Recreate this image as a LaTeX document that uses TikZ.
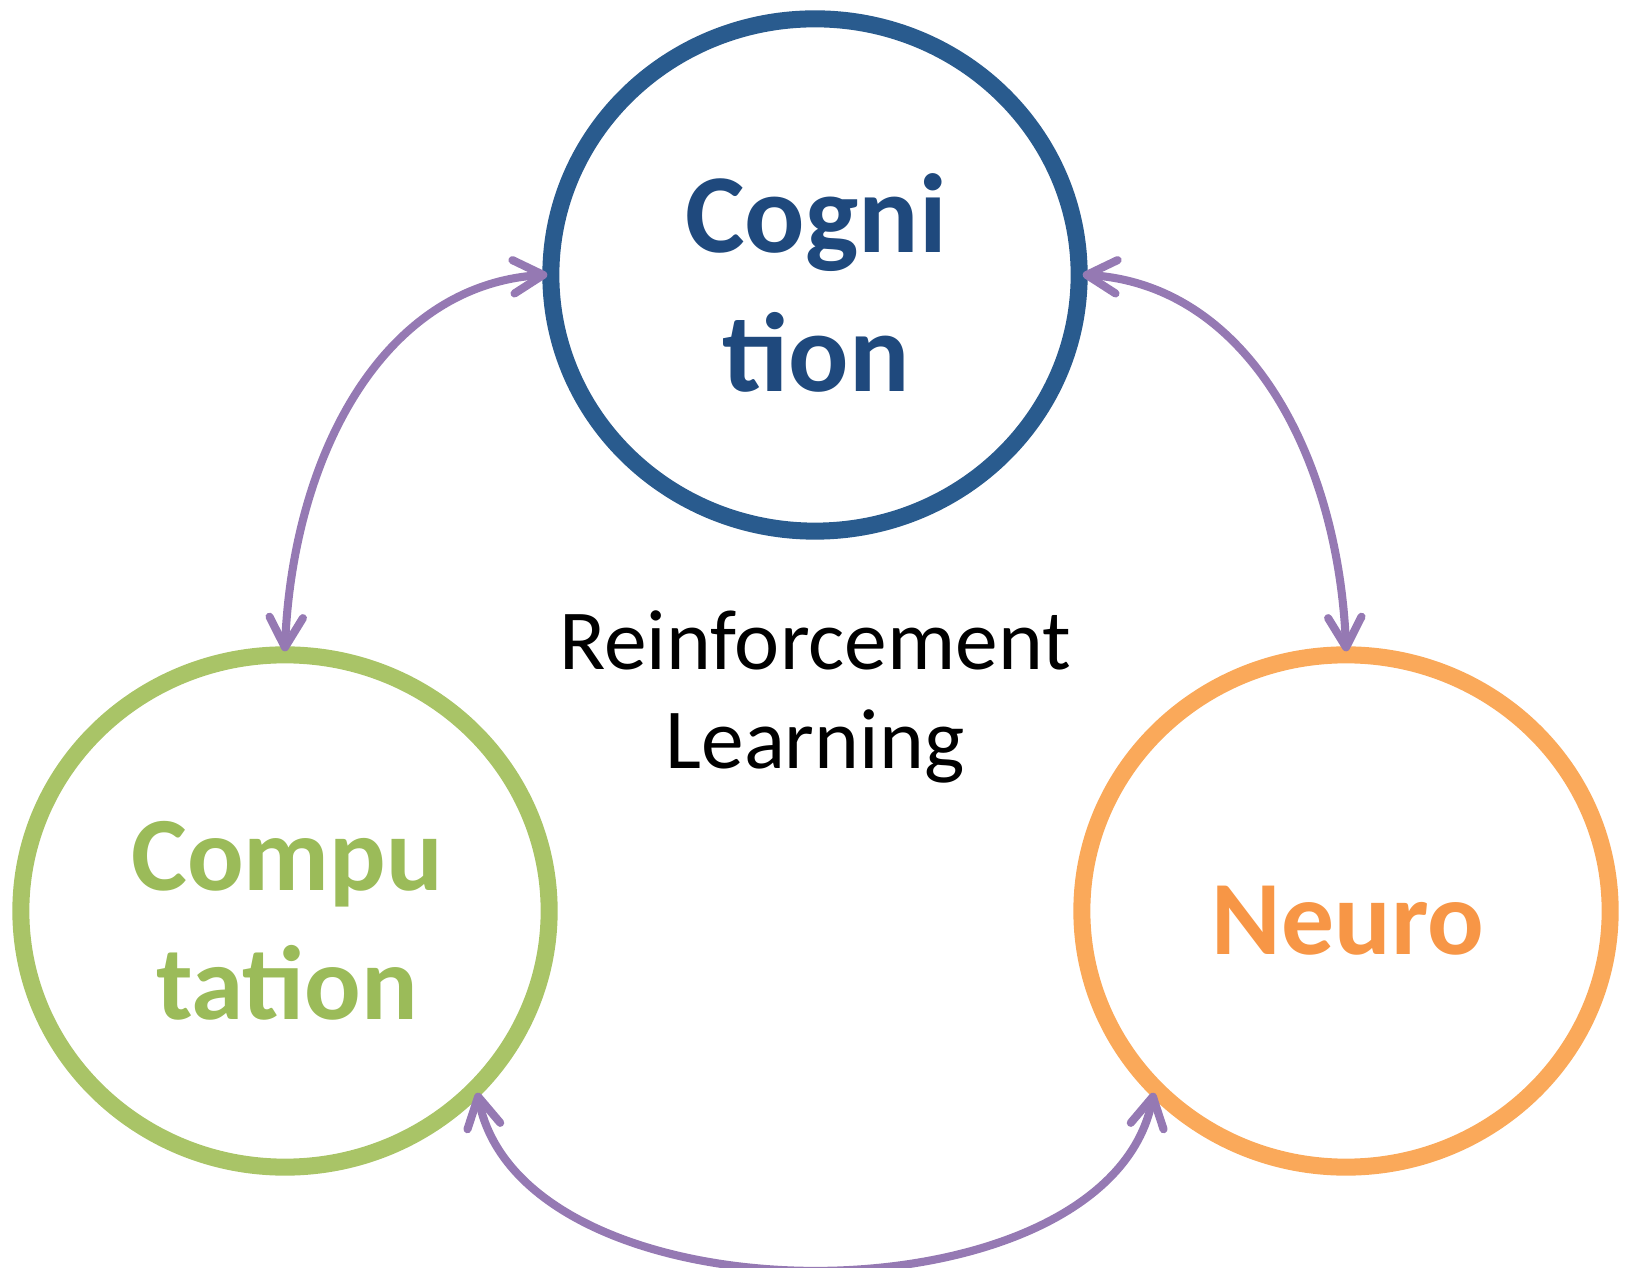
\documentclass[tikz,border=0pt]{standalone}
\usepackage{fontspec}
\setmainfont{Carlito}
\usetikzlibrary{shapes.geometric,arrows.meta}
\definecolor{cogline}{HTML}{295B8E}
\definecolor{cogtext}{HTML}{1F497D}
\definecolor{compline}{HTML}{A9C467}
\definecolor{comptext}{HTML}{9BBB59}
\definecolor{neuroline}{HTML}{FAA95A}
\definecolor{neurotext}{HTML}{F79646}
\definecolor{arrowcol}{HTML}{9579B3}
\tikzset{
  bubble/.style={ellipse, draw, line width=4.84pt, minimum width=5.28cm, minimum height=5.12cm, inner sep=0pt},
  arr/.style={draw=arrowcol, line width=2.3pt, line cap=round,
    shorten <=-0.05cm, shorten >=-0.05cm,
    {Straight Barb[length=8.5pt,width=9.5pt,round]}-{Straight Barb[length=8.5pt,width=9.5pt,round]}},
  lbl/.style={align=center, inner sep=0pt, font=\bfseries}
}
\begin{document}
\begin{tikzpicture}[x=0.01cm,y=-0.01cm]
\useasboundingbox (0,0) rectangle (1625,1268);
\node[bubble, draw=cogline] (cog) at (815,275) {};
\node[bubble, draw=compline] (comp) at (285,911) {};
\node[bubble, draw=neuroline] (neuro) at (1346,911) {};
\node[lbl, text=cogtext, font=\bfseries\fontsize{32pt}{39.3pt}\selectfont] (cogt) at (816,283) {Cogni\\tion};
\node[lbl, text=comptext, font=\bfseries\fontsize{30pt}{36.6pt}\selectfont] (compt) at (287,921) {Compu\\tation};
\node[lbl, text=neurotext, font=\bfseries\fontsize{30pt}{36pt}\selectfont] (neurot) at (1348,921) {Neuro};
\node[align=center, inner sep=0pt, font=\fontsize{24.3pt}{28.4pt}\selectfont] (rl) at (815,697) {Reinforcement\\Learning};
\draw[arr] (cog.west) .. controls +(-160,10) and +(8,-190) .. (comp.north);
\draw[arr] (cog.east) .. controls +(160,10) and +(-8,-190) .. (neuro.north);
\draw[arr] (comp.-44) .. controls +(45,230) and +(-45,230) .. (neuro.-136);
\end{tikzpicture}
\end{document}
